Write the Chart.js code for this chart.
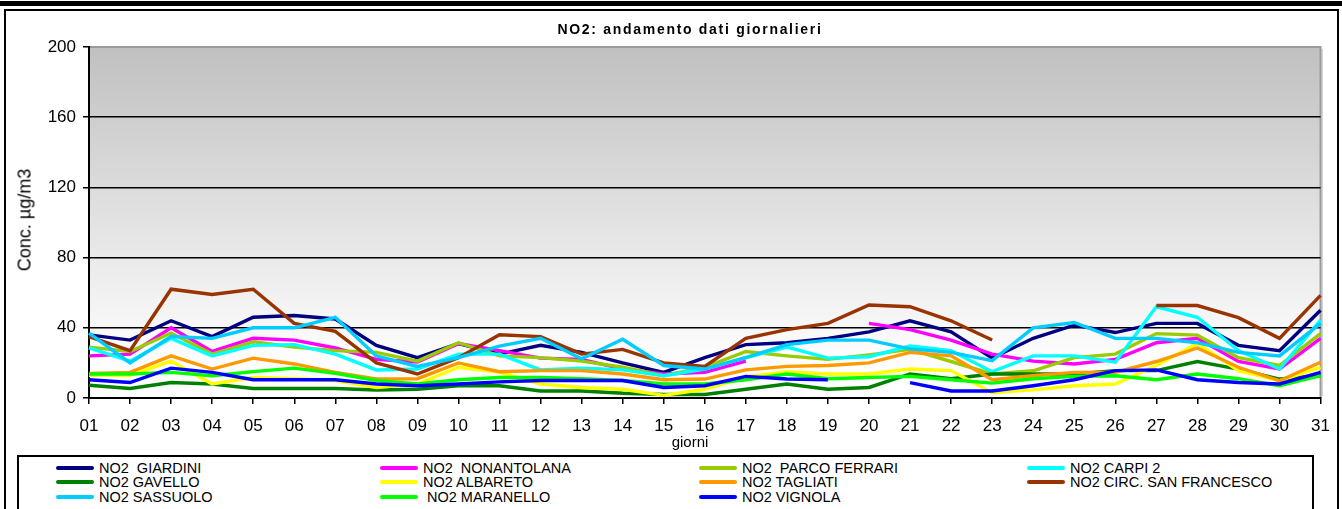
<!DOCTYPE html>
<html>
<head>
<meta charset="utf-8">
<script src="https://cdn.jsdelivr.net/npm/chart.js@4.4.1/dist/chart.umd.min.js"></script>
<style>
  html, body { margin:0; padding:0; background:#fff; }
  body { width:1342px; height:509px; position:relative; overflow:hidden; font-family:"Liberation Sans", Arial, sans-serif; }
  #c { position:absolute; left:0; top:0; }
  .abs { position:absolute; }
  #band { left:0; top:1px; width:1342px; height:5px; background:#000; }
  #frame { left:4px; top:9px; width:1335px; height:520px; border:2px solid #000; box-sizing:border-box; }
  #title { left:0; width:1380px; top:21px; text-align:center; font-weight:bold; font-size:14px; letter-spacing:1.7px; color:#000; }
  #ytitle { left:25px; top:220px; font-size:18px; transform:translate(-50%,-50%) rotate(-90deg); white-space:nowrap; color:#000; }
  #xtitle { left:690px; top:441px; font-size:15px; transform:translate(-50%,-50%); color:#000; }
  #legend { left:17px; top:455px; width:1297px; height:70px; border:2px solid #000; box-sizing:border-box; background:#fff; }
  .li { position:absolute; height:16px; white-space:pre; font-size:14.5px; line-height:16px; color:#000; }
  .li span.sw { position:absolute; left:0; top:6px; width:38px; height:4px; border-radius:2px; }
  .li span.tx { position:absolute; left:43px; top:0; }
</style>
</head>
<body>
<div id="frame" class="abs"></div>
<div id="band" class="abs"></div>
<canvas id="c" width="1342" height="509"></canvas>
<div id="title" class="abs">NO2: andamento dati giornalieri</div>
<div id="ytitle" class="abs">Conc. µg/m3</div>
<div id="xtitle" class="abs">giorni</div>
<div id="legend" class="abs"></div>
<script>
// ---- data ----
const days = ['01','02','03','04','05','06','07','08','09','10','11','12','13','14','15','16','17','18','19','20','21','22','23','24','25','26','27','28','29','30','31'];
const yTicks = [0, 40, 80, 120, 160, 200];
const seriesNames = ['NO2  GIARDINI','NO2  NONANTOLANA','NO2  PARCO FERRARI','NO2 CARPI 2','NO2 GAVELLO','NO2 ALBARETO','NO2 TAGLIATI','NO2 CIRC. SAN FRANCESCO','NO2 SASSUOLO',' NO2 MARANELLO','NO2 VIGNOLA'];
const seriesColors = ['#000080','#ff00ff','#99cc00','#00ffff','#008000','#ffff00','#ff9900','#993300','#00ccff','#00ff00','#0000ff'];

const giardini    = [36,33,44,35,46,47,45,30,23,31,25,30,26,20,14.6,23,30.4,31.5,34,37.7,44,37.7,22.7,34,41.5,37.3,42.5,42.5,30,27,50];
const nonantolana = [24,25,40,26.5,34,33,28.5,22,20.5,31,27,22.7,22,16.5,13.7,14.6,21,null,null,42.5,39,33,25,21,19.4,22,31.5,34,20.8,16.5,34];
const parcoFerrari= [29,26.5,37,25,32,29,27,26,21,31.5,24,23,21,17.5,12.7,17.5,26.5,24,22,24.6,27.7,20.8,13.7,15.5,23,25,36.7,35.8,23,18.5,36.7];
const carpi2      = [28.5,21,34,24,30,30.4,25,16,16.5,25,25,16,17,16,12.7,16.5,23,29,22.7,23.5,29.6,27,15,24,24,20.4,52,46,27,16.5,44.4];
const gavello     = [7.3,5.4,8.8,8,5.4,5.4,5.4,4.6,5,7,7,4,4,2.7,2,2,5,8,5,6,13.7,11,13.7,13.7,13.7,15.6,15.6,20.8,16.5,10.8,12.7];
const albareto    = [13,13,21,8,11.7,11,10,6,8,17.5,14.6,8,6,5,1.5,5,12,15,13.7,13.7,16.5,15.6,3,4.6,7,8,18.5,31,15.6,9.8,17.5];
const tagliati    = [14,14.6,24,16.5,22.7,19.4,14.6,10.8,11,20,15,15.6,15.6,13.7,10.4,10.8,16,18,18.5,20,26,24,10.4,12.7,14.6,14.6,20.8,28.5,17.5,9.8,20.4];
const circSanFrancesco = [35,27,62,59,62,42.5,38,20,13.7,23,36,35,25,27.7,20,18,34,39,42.5,53,52,44,33,null,null,null,52.7,52.7,45.8,34,58.5];
const sassuolo    = [37,20,35,34,40,40,46,24,18,23,29.6,34,22.3,33.5,18.5,16.5,23,30.4,33,33,28,26,21.3,40,43,34,34,31.5,26,24,42.5];
const maranello   = [13.7,13.7,14.6,12.7,15,17,14,10,8,10.4,11.7,11.7,11,10,8,8,10.4,13.7,11,11.7,12.3,10.4,8.5,11,12.3,12.7,10.4,13.7,11,7,12.7];
const vignola     = [10.4,8.8,17,14.6,10.4,10.4,10.4,8,7,8,9.2,10,10,10,6,7,12.3,10.8,10.4,null,8.8,4,4,7,10.4,15.6,16,10.4,8.8,8,14.6];

const seriesData = [giardini, nonantolana, parcoFerrari, carpi2, gavello, albareto, tagliati, circSanFrancesco, sassuolo, maranello, vignola];

// ---- legend (HTML) ----
const legCols = [37, 361, 680, 1008];
const legRows = [3, 17, 32];
const legend = document.getElementById('legend');
seriesNames.forEach((n, i) => {
  const d = document.createElement('div');
  d.className = 'li';
  d.style.left = legCols[i % 4] + 'px';
  d.style.top = legRows[Math.floor(i / 4)] + 'px';
  d.innerHTML = '<span class="sw" style="background:' + seriesColors[i] + '"></span><span class="tx"></span>';
  d.querySelector('.tx').textContent = n;
  legend.appendChild(d);
});

// ---- chart ----
const bgPlugin = {
  id: 'bg',
  beforeDraw(chart) {
    const { ctx, chartArea: a } = chart;
    ctx.save();
    const g = ctx.createLinearGradient(0, a.top, 0, a.bottom);
    g.addColorStop(0, '#c0c0c0');
    g.addColorStop(0.88, '#fdfdfd');
    g.addColorStop(1, '#ffffff');
    ctx.fillStyle = g;
    ctx.fillRect(a.left, a.top, a.right - a.left, a.bottom - a.top);
    ctx.strokeStyle = '#9a9a9a';
    ctx.lineWidth = 2;
    ctx.beginPath();
    ctx.moveTo(a.left, a.top);
    ctx.lineTo(a.right, a.top);
    ctx.lineTo(a.right, a.bottom);
    ctx.stroke();
    ctx.strokeStyle = '#b0b0b0';
    ctx.lineWidth = 1;
    ctx.beginPath();
    ctx.moveTo(a.right + 1.5, a.top + 2);
    ctx.lineTo(a.right + 1.5, a.bottom - 2);
    ctx.stroke();
    ctx.restore();
  }
};

const N = seriesData.length;
new Chart(document.getElementById('c'), {
  type: 'line',
  data: {
    labels: days,
    datasets: seriesData.map((d, i) => ({
      label: seriesNames[i].trim(),
      data: d,
      borderColor: seriesColors[i],
      backgroundColor: seriesColors[i],
      borderWidth: 3.4,
      pointRadius: 0,
      tension: 0,
      fill: false,
      spanGaps: false,
      order: N - i
    }))
  },
  options: {
    responsive: false,
    animation: false,
    devicePixelRatio: 1,
    layout: { padding: { left: 0, right: 16, top: 47, bottom: 71 } },
    plugins: { legend: { display: false }, tooltip: { enabled: false }, title: { display: false } },
    scales: {
      x: {
        type: 'category',
        offset: false,
        grid: { drawOnChartArea: false, drawTicks: true, tickLength: 6, color: '#000', lineWidth: 1.5 },
        border: { color: '#000', width: 2 },
        ticks: { color: '#000', font: { family: 'Liberation Sans, Arial, sans-serif', size: 17 }, padding: 12, autoSkip: false, maxRotation: 0 },
        afterFit(s) { s.height = 40; }
      },
      y: {
        min: 0, max: 200,
        afterBuildTicks(s) { s.ticks = yTicks.map(v => ({ value: v })); },
        grid: {
          tickLength: 6,
          color: (c) => c.tick && c.tick.value === 200 ? 'rgba(0,0,0,0)' : '#000',
          tickColor: '#000',
          lineWidth: 1.5
        },
        border: { color: '#000', width: 2 },
        ticks: { color: '#000', font: { family: 'Liberation Sans, Arial, sans-serif', size: 17 }, padding: 7 },
        afterFit(s) { s.width = 89; }
      }
    }
  },
  plugins: [bgPlugin]
});
</script>
</body>
</html>
